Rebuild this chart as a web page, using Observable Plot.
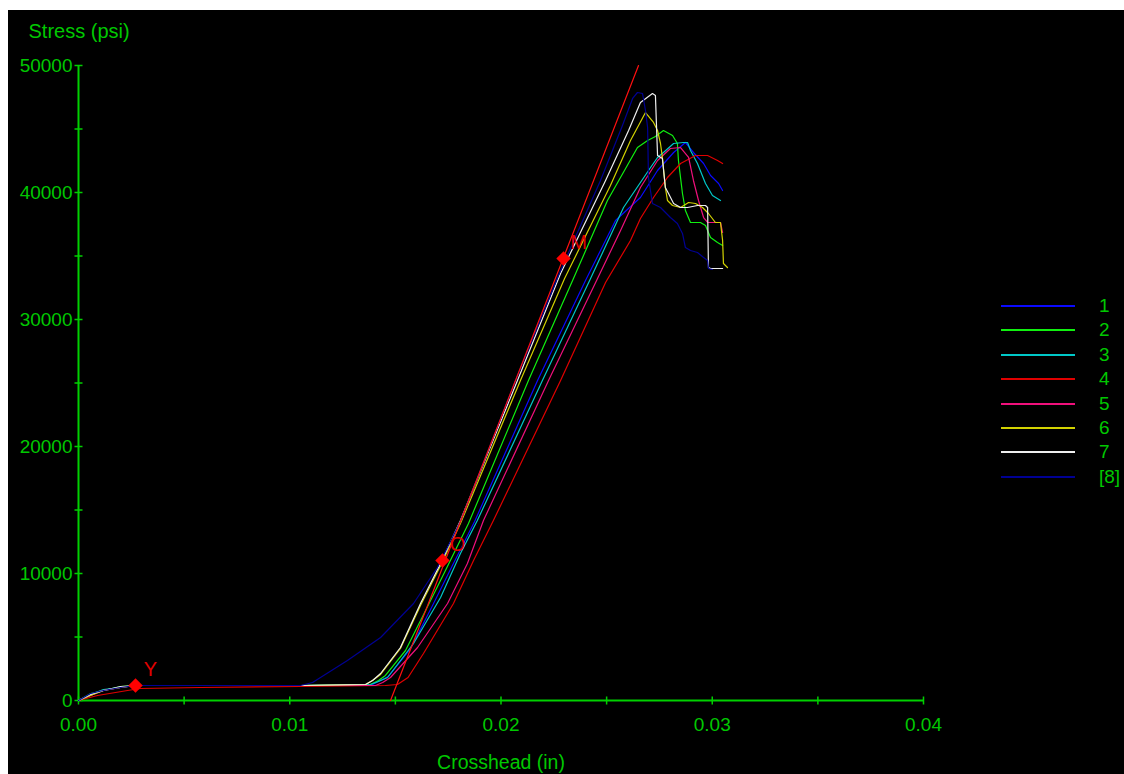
<!DOCTYPE html>
<html>
<head>
<meta charset="utf-8">
<script src="https://cdn.jsdelivr.net/npm/d3@7"></script>
<script src="https://cdn.jsdelivr.net/npm/@observablehq/plot@0.6"></script>
<style>
  html, body { margin: 0; padding: 0; background: #ffffff; }
  #panel { position: absolute; left: 8px; top: 10px; width: 1116px; height: 764px; background: #000000; overflow: hidden; }
  #legend { position: absolute; left: 0; top: 0; width: 1116px; height: 764px; pointer-events: none; }
  .lg-row { position: absolute; left: 993px; height: 20px; display: flex; align-items: center; }
  .lg-line { width: 74px; height: 0; border-top: 2px solid; margin-right: 24px; }
  .lg-text { font-family: "Liberation Sans", Arial, sans-serif; font-size: 19px; color: #00c800; line-height: 20px; }
</style>
</head>
<body>
<div id="panel"><div id="legend"></div></div>
<script>
// ---- Data ----
const seriesNames = ["1", "2", "3", "4", "5", "6", "7", "[8]"];
const seriesColors = ["#0a0aff", "#10f010", "#00c8c8", "#e00000", "#f0107c", "#d2d200", "#eeeeee", "#000094"];

const s1 = [[0,0],[0.00057,472],[0.00118,787],[0.00199,1024],[0.00270,1181],[0.00578,1181],[0.01051,1181],[0.01392,1260],
  [0.01467,1890],[0.01572,4094],[0.01676,7480],[0.01770,10630],[0.01875,14094],[0.02173,25197],[0.02400,33071],
  [0.02542,37795],[0.02660,39606],[0.02741,41732],[0.02817,43150],[0.02873,43937],[0.02911,43150],[0.02959,42283],
  [0.02992,41339],[0.03030,40709],[0.03049,40157]];
const s2 = [[0,0],[0.00057,551],[0.00118,787],[0.00199,1102],[0.00270,1181],[0.00578,1181],[0.01051,1181],[0.01382,1260],
  [0.01420,1575],[0.01453,1969],[0.01548,3937],[0.01643,7087],[0.01737,10236],[0.01846,13937],[0.02130,25197],[0.02343,33228],
  [0.02504,39370],[0.02646,43543],[0.02694,44094],[0.02731,44409],[0.02769,44882],[0.02812,44488],[0.02835,43858],
  [0.02840,42520],[0.02859,39921],[0.02873,38583],[0.02897,37638],[0.02944,37638],[0.02968,37402],[0.02992,36457],
  [0.03025,36063],[0.03049,35827]];
const s3 = [[0,0],[0.00057,472],[0.00118,866],[0.00199,1024],[0.00270,1181],[0.00578,1181],[0.01051,1181],[0.01382,1260],
  [0.01420,1496],[0.01463,1811],[0.01586,4488],[0.01714,8110],[0.01808,11575],[0.01888,14173],[0.02196,25197],[0.02424,33228],
  [0.02580,38819],[0.02660,40787],[0.02708,41969],[0.02741,42756],[0.02769,43150],[0.02817,43858],[0.02864,43937],
  [0.02883,43937],[0.02897,43307],[0.02930,42283],[0.02968,40709],[0.03001,39764],[0.03039,39370]];
const s4 = [[0,0],[0.00090,394],[0.00232,787],[0.00293,945],[0.00578,1024],[0.01051,1102],[0.01453,1181],[0.01510,1260],
  [0.01560,1811],[0.01633,3701],[0.01775,7638],[0.01870,11024],[0.01964,14173],[0.02282,25197],[0.02495,32913],[0.02613,36220],
  [0.02660,37953],[0.02722,39606],[0.02788,41181],[0.02850,42283],[0.02921,42913],[0.02978,42913],[0.03025,42520],
  [0.03049,42283]];
const s5 = [[0,0],[0.00057,394],[0.00118,787],[0.00199,1024],[0.00270,1181],[0.00578,1181],[0.01051,1181],[0.01406,1181],
  [0.01440,1417],[0.01477,1811],[0.01605,4173],[0.01747,7638],[0.01841,10787],[0.01917,14173],[0.02225,25197],[0.02457,33228],
  [0.02566,37008],[0.02660,40394],[0.02741,42520],[0.02802,43465],[0.02850,43543],[0.02888,42756],[0.02911,40945],
  [0.02935,39370],[0.02959,38031],[0.02978,37638],[0.03039,37638],[0.03049,36850]];
const s6 = [[0,0],[0.00057,394],[0.00118,787],[0.00199,1024],[0.00270,1181],[0.00578,1181],[0.01051,1181],[0.01359,1260],
  [0.01392,1575],[0.01430,2047],[0.01524,4094],[0.01619,7480],[0.01714,10630],[0.01808,13937],[0.02092,25197],[0.02301,33228],
  [0.02518,40551],[0.02613,44094],[0.02684,46299],[0.02722,45512],[0.02741,44882],[0.02755,43858],[0.02764,42756],
  [0.02778,40394],[0.02788,39370],[0.02812,38976],[0.02850,38819],[0.02888,39213],[0.02921,39134],[0.02954,38819],
  [0.02982,38346],[0.03015,37638],[0.03039,37638],[0.03049,36220],[0.03053,34409],[0.03072,34094]];
const s7 = [[0,0],[0.00057,472],[0.00118,787],[0.00199,1102],[0.00270,1181],[0.00578,1181],[0.01051,1181],[0.01359,1260],
  [0.01392,1575],[0.01430,2126],[0.01524,4173],[0.01619,7638],[0.01714,10787],[0.01808,14173],[0.02078,25197],[0.02282,33622],
  [0.02495,40945],[0.02604,44882],[0.02660,47087],[0.02717,47795],[0.02731,47638],[0.02741,42913],[0.02764,42677],
  [0.02778,40394],[0.02793,39921],[0.02817,39134],[0.02850,38819],[0.02883,38819],[0.02930,38976],[0.02968,38976],
  [0.02978,38819],[0.02982,34094],[0.02992,34016],[0.03049,34016]];
const s8 = [[0,0],[0.00057,551],[0.00118,787],[0.00199,1024],[0.00270,1181],[0.00578,1181],[0.00814,1181],[0.01051,1181],
  [0.01108,1417],[0.01273,3150],[0.01430,4961],[0.01586,7638],[0.01699,10472],[0.01808,14094],[0.02069,25197],
  [0.02272,33465],[0.02471,40945],[0.02575,45276],[0.02623,47402],[0.02646,47874],[0.02670,47795],[0.02684,46457],
  [0.02694,45118],[0.02698,41181],[0.02717,39134],[0.02755,38819],[0.02802,38031],[0.02835,37559],[0.02859,36772],
  [0.02873,35669],[0.02897,35433],[0.02930,35276],[0.02959,34882],[0.02978,34646],[0.02982,34016],[0.03001,33937]];
const seriesData = [s1, s2, s3, s4, s5, s6, s7, s8];

// modulus (tangent) line end points
const tangentLine = [[0.01477, 0], [0.02651, 50000]];
// analysis markers
const markerLabels = ["Y", "O", "M"];
const markerX = [0.00270, 0.01723, 0.02296];
const markerY = [1181, 11024, 34803];

// axes
const xDomain = [0, 0.04];
const yDomain = [0, 50000];
const xLabelTicks = [0, 0.01, 0.02, 0.03, 0.04];
const xMinorTicks = [0, 0.005, 0.01, 0.015, 0.02, 0.025, 0.03, 0.035, 0.04];
const yLabelTicks = [0, 10000, 20000, 30000, 40000, 50000];
const yMinorTicks = [0, 5000, 10000, 15000, 20000, 25000, 30000, 35000, 40000, 45000, 50000];
const xTitle = "Crosshead (in)";
const yTitle = "Stress (psi)";

// ---- Build ----
const rows = [];
seriesNames.forEach((name, i) => seriesData[i].forEach(([x, y]) => rows.push({series: name, x, y})));
const markers = markerLabels.map((label, i) => ({label, x: markerX[i], y: markerY[i]}));
const tangent = tangentLine.map(([x, y]) => ({x, y}));

const GREEN = "#00d000";
const TEXT_GREEN = "#00c800";
const hTick = {draw(ctx) { ctx.moveTo(-4, 0); ctx.lineTo(4, 0); }};
const vTick = {draw(ctx) { ctx.moveTo(0, -4); ctx.lineTo(0, 4); }};

const chart = Plot.plot({
  width: 1116,
  height: 764,
  marginLeft: 70,
  marginRight: 201,
  marginTop: 55,
  marginBottom: 74,
  style: {background: "#000000", color: TEXT_GREEN, fontFamily: "'Liberation Sans', Arial, sans-serif", fontSize: "19px"},
  x: {domain: xDomain},
  y: {domain: yDomain},
  color: {domain: seriesNames, range: seriesColors},
  marks: [
    Plot.axisX({ticks: xLabelTicks, tickFormat: d3.format(".2f"), tickSize: 0, tickPadding: 17, label: null, fill: TEXT_GREEN}),
    Plot.axisY({ticks: yLabelTicks, tickFormat: d => String(d), tickSize: 0, tickPadding: 6, label: null, fill: TEXT_GREEN}),
    Plot.ruleY([0], {x1: xDomain[0], x2: xDomain[1], stroke: GREEN, strokeWidth: 2}),
    Plot.ruleX([0], {y1: yDomain[0], y2: yDomain[1], stroke: GREEN, strokeWidth: 2}),
    Plot.dot(xMinorTicks, {x: d => d, y: 0, symbol: vTick, stroke: GREEN, fill: "none", strokeWidth: 1.5}),
    Plot.dot(yMinorTicks, {x: 0, y: d => d, symbol: hTick, stroke: GREEN, fill: "none", strokeWidth: 1.5}),
    Plot.line(rows, {x: "x", y: "y", z: "series", stroke: "series", strokeWidth: 1.2}),
    Plot.line(tangent, {x: "x", y: "y", stroke: "#ff1010", strokeWidth: 1.2}),
    Plot.dot(markers, {x: "x", y: "y", symbol: "diamond2", r: 6.5, fill: "#ff0000", stroke: "none"}),
    Plot.text(markers, {x: "x", y: "y", text: "label", dx: 15, dy: -16, fill: "#e00000", fontSize: 20}),
    Plot.text([yTitle], {frameAnchor: "top-left", dx: -50, dy: -42, textAnchor: "start", fill: TEXT_GREEN, fontSize: 20}),
    Plot.text([xTitle], {frameAnchor: "bottom", dy: 68, fill: TEXT_GREEN, fontSize: 19.5})
  ]
});
document.getElementById("panel").prepend(chart);

// legend
const legend = document.getElementById("legend");
const rowY = [296, 320.4, 344.8, 369.2, 393.6, 418, 442.4, 466.8];
seriesNames.forEach((name, i) => {
  const row = document.createElement("div");
  row.className = "lg-row";
  row.style.top = (rowY[i] - 10) + "px";
  const line = document.createElement("div");
  line.className = "lg-line";
  line.style.borderTopColor = seriesColors[i];
  const txt = document.createElement("span");
  txt.className = "lg-text";
  txt.textContent = name;
  row.appendChild(line);
  row.appendChild(txt);
  legend.appendChild(row);
});
</script>
</body>
</html>
